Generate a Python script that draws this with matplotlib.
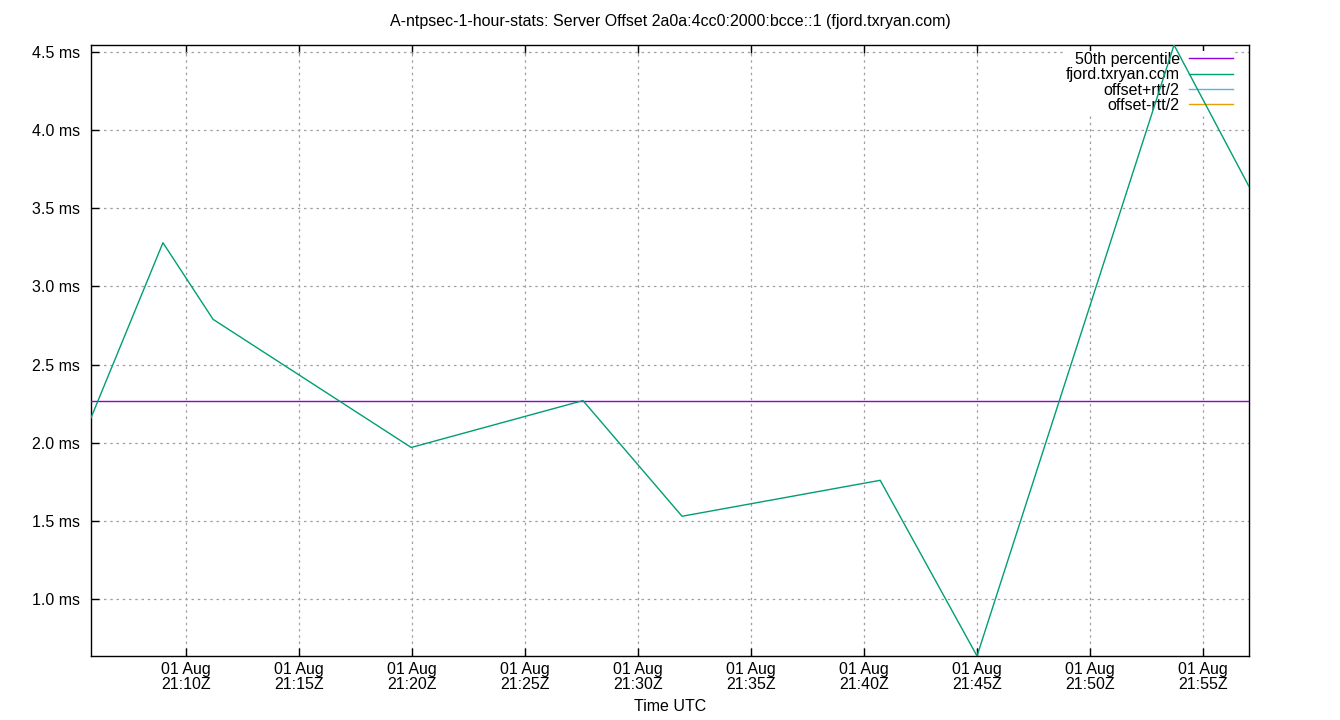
import matplotlib
matplotlib.use("Agg")
import matplotlib.pyplot as plt
import matplotlib.dates as mdates
from matplotlib.ticker import FuncFormatter, MultipleLocator
import pandas as pd

plt.rcParams['font.family'] = ['Liberation Sans', 'DejaVu Sans']

# sample times (UTC) and offsets
times = ["2023-08-01 21:05:48", "2023-08-01 21:08:59", "2023-08-01 21:11:12",
         "2023-08-01 21:19:58", "2023-08-01 21:27:34", "2023-08-01 21:31:57",
         "2023-08-01 21:40:43", "2023-08-01 21:45:00", "2023-08-01 21:53:43",
         "2023-08-01 21:57:02"]
offset_ms = [2.16, 3.28, 2.79, 1.97, 2.27, 1.53, 1.76, 0.636, 4.545, 3.64]
p50_ms = 2.27

labels = ["50th percentile", "fjord.txryan.com", "offset+rtt/2", "offset-rtt/2"]
colors = ["#9400d3", "#009e73", "#56b4e9", "#e69f00"]

fs = 11.5
t = pd.to_datetime(times)

fig = plt.figure(figsize=(13.4, 7.2), dpi=100)
ax = fig.add_axes([91 / 1340, 64 / 720, 1158 / 1340, 611 / 720])

ax.axhline(p50_ms, color=colors[0], lw=1, zorder=3)
ax.plot(t, offset_ms, color=colors[1], lw=1, zorder=3)

ax.set_xlim(t[0], t[-1])
ax.set_ylim(min(offset_ms), max(offset_ms))

ax.xaxis.set_major_locator(mdates.MinuteLocator(byminute=range(0, 60, 5)))
ax.xaxis.set_major_formatter(mdates.DateFormatter("%d %b\n%H:%MZ"))
ax.yaxis.set_major_locator(MultipleLocator(0.5))
ax.yaxis.set_major_formatter(FuncFormatter(lambda v, p: f"{v:.1f} ms"))

ax.tick_params(axis="both", direction="in", length=6, width=1, labelsize=fs)
ax.tick_params(axis="x", top=True, pad=4)
ax.tick_params(axis="y", pad=8)
for lab in ax.get_xticklabels():
    lab.set_linespacing(1.0)

ax.grid(True, color="#a0a0a0", ls=(0, (2, 3)), lw=0.9, zorder=0)
ax.set_axisbelow(True)
for s in ax.spines.values():
    s.set_linewidth(1)

# legend: text right of the key, no frame
handles = [plt.Line2D([], [], color=c, lw=1) for c in colors]
leg = ax.legend(handles, labels, loc="upper right", markerfirst=False,
                bbox_to_anchor=(0.987, 0.990),
                frameon=True, facecolor="white", edgecolor="none", framealpha=1,
                fontsize=fs, handlelength=2.75, handletextpad=0.6,
                labelspacing=0.02, borderaxespad=0, borderpad=0.05)
leg.set_zorder(2)
for txt in leg.get_texts():
    txt.set_ha("right")

ax.set_title("A-ntpsec-1-hour-stats: Server Offset 2a0a:4cc0:2000:bcce::1 (fjord.txryan.com)",
             fontsize=fs, pad=14)
ax.set_xlabel("Time UTC", fontsize=fs, labelpad=5.5)

fig.savefig("out.png", dpi=100)
